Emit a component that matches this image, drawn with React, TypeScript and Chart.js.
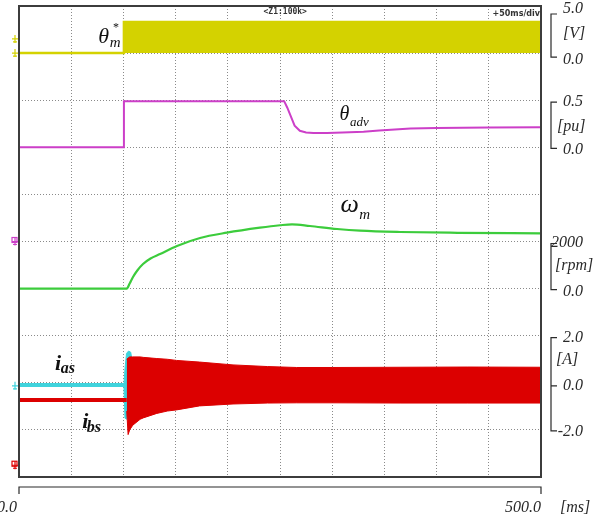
import React, { useEffect, useRef } from "react";
import { Chart, registerables } from "chart.js";

Chart.register(...registerables);

// Time base: 10 divisions of 50 ms
const timeMin = 0;
const timeMax = 500;
const timeStep = 50;

// θm* command (V)
const refTimes = [0, 100.5, 100.5, 500];
const refVolts = [0, 0, 3.3, 3.3];

// θadv (pu)
const advTimes = [0, 100.5, 100.5, 254, 257, 260, 264, 269, 275, 282, 295, 310, 330, 345, 360, 375, 400, 450, 500];
const advPu = [0, 0, 0.49, 0.49, 0.42, 0.34, 0.23, 0.175, 0.158, 0.152, 0.153, 0.157, 0.166, 0.178, 0.19, 0.2, 0.205, 0.21, 0.212];

// ωm (rpm)
const speedTimes = [0, 103.2, 106, 109.2, 113.5, 118.8, 126, 135.1, 151.3, 173.4, 199.2, 230.8, 250, 261.5, 278.7, 304.6, 326.6, 365, 420, 500];
const speedRpm = [0, 0, 220, 492, 780, 1045, 1280, 1469, 1809, 2148, 2374, 2586, 2690, 2730, 2658, 2531, 2458, 2403, 2370, 2348];

// ias (A): standstill offset, then start-up burst envelope
const iasPreTimes = [0, 100.5];
const iasPre = [-0.09, -0.09];
const iasEnvTimes = [100.5, 101.5, 103, 105, 107, 108.5];
const iasEnvTop = [-0.09, 0.6, 1.25, 1.35, 1.3, 0.9];
const iasEnvBottom = [-0.09, -1.5, -1.55, -1.3, -1.0, -0.8];

// ibs (A): standstill offset, then switching envelope
const ibsPreTimes = [0, 103.2];
const ibsPre = [-0.73, -0.73];
const ibsEnvTimes = [103.2, 104.5, 106, 109, 116, 119, 132, 142, 151, 173, 205, 238, 266, 300, 365, 430, 500];
const ibsEnvTop = [1.0, 1.05, 1.1, 1.1, 1.1, 1.08, 1.03, 1.0, 0.95, 0.88, 0.76, 0.69, 0.65, 0.65, 0.66, 0.67, 0.66];
const ibsEnvBottom = [-1.2, -2.2, -2.0, -1.8, -1.55, -1.49, -1.3, -1.2, -1.15, -0.98, -0.9, -0.86, -0.85, -0.85, -0.86, -0.86, -0.86];

// Channel scales (value per division, zero position in divisions from the bottom)
const voltRange = [-45, 5];
const puRange = [-3.5, 1.5];
const rpmRange = [-8000, 12000];
const ampRange = [-4, 16];

// Right-hand scale annotations
const voltLabels = ["5.0", "0.0"];
const puLabels = ["0.5", "0.0"];
const rpmLabels = ["2000", "0.0"];
const ampLabels = ["2.0", "0.0", "-2.0"];
const timeLabels = ["0.0", "500.0"];

const YELLOW = "#d4d200";
const MAGENTA = "#cc3fc8";
const GREEN = "#3ccc3c";
const CYAN = "#3fd3dc";
const RED = "#dc0000";
const GRID = "#8a8a8a";
const INK = "#2a2a2a";

const pts = (xs: number[], ys: number[]) => xs.map((x, i) => ({ x, y: ys[i] }));

const SERIF = '"Liberation Serif", "Times New Roman", serif';

const scopeDecor = {
  id: "scopeDecor",
  afterDraw(chart: any) {
    const { ctx, chartArea: a, scales } = chart;
    const sx = scales.x;
    const yV = scales.yV;
    const yPu = scales.yPu;
    const yRpm = scales.yRpm;
    const yA = scales.yA;
    ctx.save();

    // screen frame
    ctx.strokeStyle = "#3c3c3c";
    ctx.lineWidth = 2;
    ctx.strokeRect(a.left, a.top, a.right - a.left, a.bottom - a.top);

    // header texts
    ctx.fillStyle = "#333";
    ctx.font = 'bold 8px "DejaVu Sans Mono", monospace';
    ctx.textBaseline = "middle";
    ctx.textAlign = "center";
    ctx.fillText("<Z1:100k>", sx.getPixelForValue(255), a.top + 6);
    ctx.textAlign = "right";
    ctx.font = 'bold 8px "DejaVu Sans", sans-serif';
    ctx.fillText("+50ms/div", a.right - 1, a.top + 8);

    // right-hand channel scales
    const bx = a.right + 10;
    ctx.strokeStyle = INK;
    ctx.lineWidth = 1.2;
    const bracket = (y1: number, y2: number, mids: number[]) => {
      ctx.beginPath();
      ctx.moveTo(bx + 6, y1);
      ctx.lineTo(bx, y1);
      ctx.lineTo(bx, y2);
      ctx.lineTo(bx + 6, y2);
      mids.forEach((m) => {
        ctx.moveTo(bx, m);
        ctx.lineTo(bx + 6, m);
      });
      ctx.stroke();
    };
    ctx.fillStyle = INK;
    ctx.font = `italic 16px ${SERIF}`;
    ctx.textBaseline = "middle";
    const num = (t: string, y: number) => {
      ctx.textAlign = "right";
      ctx.fillText(t, a.right + 42, y);
    };
    const unit = (t: string, x: number, y: number) => {
      ctx.textAlign = "left";
      ctx.fillText(t, x, y);
    };

    // V
    bracket(yV.getPixelForValue(5) + 8, yV.getPixelForValue(0) + 4, []);
    num(voltLabels[0], yV.getPixelForValue(5) + 3);
    unit("[V]", a.right + 22, (yV.getPixelForValue(5) + yV.getPixelForValue(0)) / 2 + 4);
    num(voltLabels[1], yV.getPixelForValue(0) + 7);

    // pu
    bracket(yPu.getPixelForValue(0.5) + 2, yPu.getPixelForValue(0) + 1, []);
    num(puLabels[0], yPu.getPixelForValue(0.5) + 2);
    unit("[pu]", a.right + 16, (yPu.getPixelForValue(0.5) + yPu.getPixelForValue(0)) / 2 + 3);
    num(puLabels[1], yPu.getPixelForValue(0) + 2);

    // rpm
    bracket(yRpm.getPixelForValue(2000) + 2, yRpm.getPixelForValue(0) + 1, []);
    num(rpmLabels[0], yRpm.getPixelForValue(2000) + 1);
    unit("[rpm]", a.right + 14, (yRpm.getPixelForValue(2000) + yRpm.getPixelForValue(0)) / 2 + 1);
    num(rpmLabels[1], yRpm.getPixelForValue(0) + 3);

    // A
    bracket(yA.getPixelForValue(2) + 2, yA.getPixelForValue(-2) + 1, [yA.getPixelForValue(0) + 3]);
    num(ampLabels[0], yA.getPixelForValue(2) + 2);
    unit("[A]", a.right + 15, yA.getPixelForValue(1) + 1);
    num(ampLabels[1], yA.getPixelForValue(0) + 3);
    num(ampLabels[2], yA.getPixelForValue(-2) + 2);

    // time axis below the screen
    const ay = a.bottom + 10;
    const x0 = sx.getPixelForValue(timeMin);
    const x1 = sx.getPixelForValue(timeMax);
    ctx.beginPath();
    ctx.moveTo(x0, ay + 7);
    ctx.lineTo(x0, ay);
    ctx.lineTo(x1, ay);
    ctx.lineTo(x1, ay + 7);
    ctx.stroke();
    ctx.textBaseline = "middle";
    ctx.textAlign = "right";
    ctx.fillText(timeLabels[0], x0 - 2, ay + 21);
    ctx.fillText(timeLabels[1], x1, ay + 21);
    ctx.textAlign = "left";
    ctx.fillText("[ms]", x1 + 19, ay + 21);

    // trace names
    ctx.textBaseline = "alphabetic";
    ctx.textAlign = "left";
    ctx.fillStyle = "#111";
    const tx = (v: number) => sx.getPixelForValue(v);
    ctx.font = `italic 22px ${SERIF}`;
    ctx.fillText("θ", tx(76), yV.getPixelForValue(0) - 10);
    ctx.font = `italic 15px ${SERIF}`;
    ctx.fillText("m", tx(87), yV.getPixelForValue(0) - 6);
    ctx.font = `12px ${SERIF}`;
    ctx.fillText("*", tx(90), yV.getPixelForValue(0) - 22);

    ctx.font = `italic 20px ${SERIF}`;
    ctx.fillText("θ", tx(307), yPu.getPixelForValue(0.285));
    ctx.font = `italic 13px ${SERIF}`;
    ctx.fillText("adv", tx(317), yPu.getPixelForValue(0.23));

    ctx.font = `italic 26px ${SERIF}`;
    ctx.fillText("ω", tx(308), yRpm.getPixelForValue(3250));
    ctx.font = `italic 15px ${SERIF}`;
    ctx.fillText("m", tx(326), yRpm.getPixelForValue(2950));

    ctx.font = `bold italic 22px ${SERIF}`;
    ctx.fillText("i", tx(34.5), yA.getPixelForValue(0.55));
    ctx.font = `bold italic 16px ${SERIF}`;
    ctx.fillText("as", tx(40), yA.getPixelForValue(0.4));
    ctx.font = `bold italic 22px ${SERIF}`;
    ctx.fillText("i", tx(60.5), yA.getPixelForValue(-1.9));
    ctx.font = `bold italic 16px ${SERIF}`;
    ctx.fillText("bs", tx(65), yA.getPixelForValue(-2.08));

    // channel ground markers at the left edge
    const mark = (color: string, y: number, boxed: boolean) => {
      const l = a.left - 7;
      ctx.strokeStyle = color;
      ctx.lineWidth = 1.2;
      ctx.beginPath();
      ctx.moveTo(l, y);
      ctx.lineTo(a.left - 1, y);
      ctx.moveTo(l + 3, y - 4);
      ctx.lineTo(l + 3, y + 4);
      ctx.moveTo(l + 1, y + 3);
      ctx.lineTo(l + 5, y + 3);
      ctx.stroke();
      if (boxed) ctx.strokeRect(l, y - 4, 5, 5);
    };
    mark(YELLOW, yV.getPixelForValue(1.5), false);
    mark(YELLOW, yV.getPixelForValue(0), false);
    mark(MAGENTA, yRpm.getPixelForValue(2000), true);
    mark(CYAN, yA.getPixelForValue(0) + 3, false);
    mark(RED, yA.getPixelForValue(-3.5), true);

    ctx.restore();
  },
};

export default function App() {
  const ref = useRef<HTMLCanvasElement | null>(null);

  useEffect(() => {
    document.body.style.margin = "0";
    const canvas = ref.current;
    if (!canvas) return;

    const line = (extra: any) => ({
      pointRadius: 0,
      borderWidth: 2,
      tension: 0,
      fill: false,
      ...extra,
    });

    const chart = new Chart(canvas, {
      type: "line",
      data: {
        datasets: [
          line({ label: "ibs+", data: pts(ibsEnvTimes, ibsEnvTop), yAxisID: "yA", borderColor: RED, backgroundColor: RED, borderWidth: 1, fill: "+1" }),
          line({ label: "ibs-", data: pts(ibsEnvTimes, ibsEnvBottom), yAxisID: "yA", borderColor: RED, borderWidth: 1 }),
          line({ label: "ibs0", data: pts(ibsPreTimes, ibsPre), yAxisID: "yA", borderColor: RED, borderWidth: 4 }),
          line({ label: "ias+", data: pts(iasEnvTimes, iasEnvTop), yAxisID: "yA", borderColor: CYAN, backgroundColor: CYAN, borderWidth: 1, fill: "+1" }),
          line({ label: "ias-", data: pts(iasEnvTimes, iasEnvBottom), yAxisID: "yA", borderColor: CYAN, borderWidth: 1 }),
          line({ label: "ias0", data: pts(iasPreTimes, iasPre), yAxisID: "yA", borderColor: CYAN, borderWidth: 4 }),
          line({ label: "ωm", data: pts(speedTimes, speedRpm), yAxisID: "yRpm", borderColor: GREEN, borderWidth: 2.2, cubicInterpolationMode: "monotone" }),
          line({ label: "θadv", data: pts(advTimes, advPu), yAxisID: "yPu", borderColor: MAGENTA }),
          line({ label: "θm*", data: pts(refTimes, refVolts), yAxisID: "yV", borderColor: YELLOW, backgroundColor: YELLOW, borderWidth: 2.5, fill: { value: 0 } }),
        ],
      },
      options: {
        responsive: false,
        animation: false,
        devicePixelRatio: 1,
        layout: { padding: { left: 19, right: 65, top: 6, bottom: 44 } },
        plugins: { legend: { display: false }, tooltip: { enabled: false } },
        elements: { point: { radius: 0 } },
        scales: {
          x: {
            type: "linear",
            min: timeMin,
            max: timeMax,
            ticks: { display: false, stepSize: timeStep },
            grid: { color: GRID, lineWidth: 1, drawTicks: false },
            border: { display: false, dash: [1, 2] },
          },
          y: {
            type: "linear",
            position: "left",
            min: 0,
            max: 10,
            ticks: { display: false, stepSize: 1 },
            grid: { color: GRID, lineWidth: 1, drawTicks: false },
            border: { display: false, dash: [1, 2] },
          },
          yV: { type: "linear", display: false, min: voltRange[0], max: voltRange[1] },
          yPu: { type: "linear", display: false, min: puRange[0], max: puRange[1] },
          yRpm: { type: "linear", display: false, min: rpmRange[0], max: rpmRange[1] },
          yA: { type: "linear", display: false, min: ampRange[0], max: ampRange[1] },
        },
      },
      plugins: [scopeDecor],
    } as any);

    return () => chart.destroy();
  }, []);

  return <canvas ref={ref} width={606} height={521} style={{ display: "block" }} />;
}
